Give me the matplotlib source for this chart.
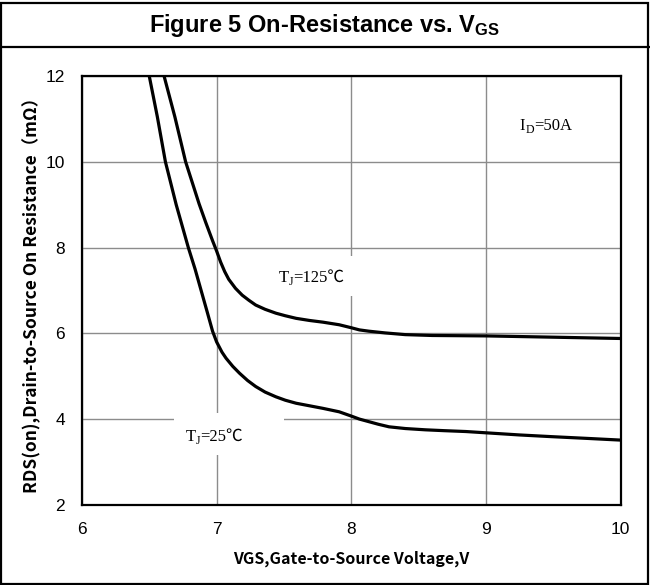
import numpy as np
import matplotlib
matplotlib.use('Agg')
from matplotlib import pyplot as plt
from matplotlib.patches import Rectangle
from matplotlib.lines import Line2D

# TJ = 25 C curve
vgs_25 = [6.50, 6.56, 6.62, 6.70, 6.745, 6.79, 6.84, 6.885, 6.93, 6.97, 7.00, 7.04, 7.07, 7.12,
          7.17, 7.23, 7.29, 7.36, 7.44, 7.51, 7.59, 7.69, 7.79, 7.91, 8.00, 8.06, 8.13, 8.20,
          8.28, 8.40, 8.55, 8.69, 8.85, 9.00, 9.25, 9.49, 9.75, 10.0]
rds_25 = [12.0, 11.05, 10.0, 9.0, 8.5, 8.0, 7.5, 7.0, 6.5, 6.05, 5.80, 5.56, 5.42, 5.23,
          5.07, 4.90, 4.76, 4.63, 4.52, 4.44, 4.37, 4.31, 4.25, 4.17, 4.07, 4.00, 3.94, 3.88,
          3.82, 3.78, 3.75, 3.73, 3.71, 3.68, 3.63, 3.59, 3.55, 3.51]

# TJ = 125 C curve
vgs_125 = [6.61, 6.69, 6.77, 6.87, 6.92, 6.97, 7.00, 7.03, 7.06, 7.09, 7.14, 7.19, 7.24, 7.29,
           7.36, 7.44, 7.51, 7.59, 7.69, 7.79, 7.91, 8.00, 8.06, 8.13, 8.25, 8.40, 8.60,
           9.00, 9.50, 10.0]
rds_125 = [12.0, 11.05, 10.0, 9.02, 8.58, 8.16, 7.92, 7.66, 7.44, 7.26, 7.05, 6.89, 6.77, 6.66,
           6.56, 6.47, 6.41, 6.35, 6.30, 6.26, 6.20, 6.13, 6.08, 6.05, 6.01, 5.97, 5.95,
           5.94, 5.91, 5.88]

x_ticks = [6, 7, 8, 9, 10]
y_ticks = [2, 4, 6, 8, 10, 12]

sans = ['Liberation Sans', 'DejaVu Sans']
cjk = ['Noto Sans CJK SC', 'DejaVu Sans']
serif = ['Liberation Serif', 'Noto Sans CJK SC', 'DejaVu Serif']

fig = plt.figure(figsize=(6.5, 5.85), dpi=100)

# outer frame and title band
fig.patches.append(Rectangle((0.002, 0.002), 0.995, 0.993, transform=fig.transFigure,
                             fill=False, edgecolor='black', linewidth=1.6))
fig.lines.append(Line2D([0, 1], [0.92, 0.92], transform=fig.transFigure, color='black', linewidth=1.6))
fig.text(0.5, 0.957, r'Figure 5 On-Resistance vs. V$\mathregular{_{GS}}$', ha='center', va='center',
         fontsize=17, fontweight='bold', family=sans)

ax = fig.add_axes([0.126, 0.137, 0.829, 0.733])
ax.plot(vgs_25, rds_25, color='black', linewidth=2.3, zorder=3, solid_joinstyle='round')
ax.plot(vgs_125, rds_125, color='black', linewidth=2.3, zorder=3, solid_joinstyle='round')

ax.set_xlim(6, 10)
ax.set_ylim(2, 12)
ax.set_xticks(x_ticks)
ax.set_yticks(y_ticks)
ax.grid(True, color='#8c8c8c', linewidth=1.0)
ax.set_axisbelow(True)
ax.tick_params(length=0, labelsize=12.5, pad=12)
for lab in ax.get_xticklabels() + ax.get_yticklabels():
    lab.set_family(sans)
for s in ax.spines.values():
    s.set_linewidth(1.6)

ax.set_xlabel('VGS,Gate-to-Source Voltage,V', family=cjk, fontweight='bold', fontsize=11.5, labelpad=10)
ax.set_ylabel('RDS(on),Drain-to-Source On Resistance（mΩ）', family=cjk, fontweight='bold',
              fontsize=12.5, labelpad=3)

# white boxes behind the curve labels (they cut the grid)
ax.add_patch(Rectangle((7.39, 6.88), 0.67, 0.92, facecolor='white', edgecolor='none', zorder=1))
ax.add_patch(Rectangle((6.68, 3.16), 0.82, 0.98, facecolor='white', edgecolor='none', zorder=1))


def sub_label(x, y, main, sub, rest):
    t1 = ax.text(x, y, main, ha='left', va='center', fontsize=12, family=serif, zorder=2)
    t2 = ax.annotate(sub, xy=(1, 0), xycoords=t1, xytext=(0, -1.5), textcoords='offset points',
                     ha='left', va='bottom', fontsize=8.5, family=serif, zorder=2)
    ax.annotate(rest, xy=(1, 0.5), xycoords=(t2, t1), ha='left', va='center',
                fontsize=12, family=serif, zorder=2)


sub_label(7.46, 7.3, 'T', 'J', '=125℃')
sub_label(6.77, 3.58, 'T', 'J', '=25℃')
sub_label(9.25, 10.84, 'I', 'D', '=50A')

plt.savefig('out.png')
plt.close()
